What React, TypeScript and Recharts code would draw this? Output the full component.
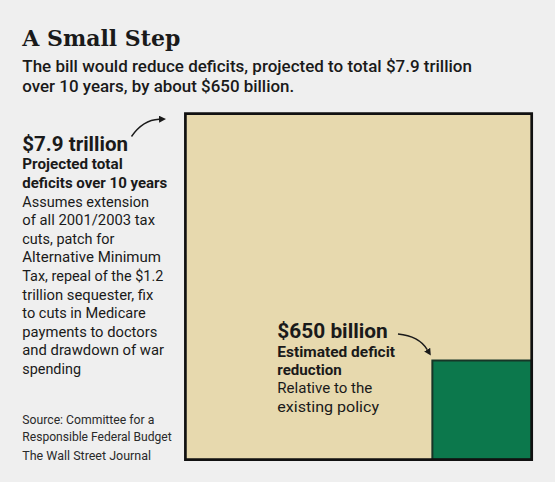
import React from "react";
import { ComposedChart, XAxis, YAxis, ReferenceArea } from "recharts";

// ---- data ----
const squareNames = ["Projected total deficits over 10 years", "Estimated deficit reduction"];
const squareValues = [7900, 650]; // billions of dollars
const squareLabels = ["$7.9 trillion", "$650 billion"];

const titleText = "A Small Step";
const subtitleLines = [
  "The bill would reduce deficits, projected to total $7.9 trillion",
  "over 10 years, by about $650 billion.",
];
const totalNoteBold = ["Projected total", "deficits over 10 years"];
const totalNoteLines = [
  "Assumes extension",
  "of all 2001/2003 tax",
  "cuts, patch for",
  "Alternative Minimum",
  "Tax, repeal of the $1.2",
  "trillion sequester, fix",
  "to cuts in Medicare",
  "payments to doctors",
  "and drawdown of war",
  "spending",
];
const reductionBold = ["Estimated deficit", "reduction"];
const reductionLines = ["Relative to the", "existing policy"];
const sourceLines = ["Source: Committee for a", "Responsible Federal Budget", "The Wall Street Journal"];

// ---- layout (widths of text lines, px) ----
const subtitleWidths = [449.6, 271.9];
const totalBoldWidths = [100.4, 145];
const totalNoteWidths = [126.7, 132.7, 92, 138.7, 141, 131, 123.4, 135, 141.7, 58.7];
const reductionBoldWidths = [117.7, 64.4];
const reductionWidths = [95, 101.7];
const sourceWidths = [132, 149.4, 128.7];

const BG = "#efefef";
const BEIGE = "#e7d9ae";
const GREEN = "#0c784c";
const INK = "#1a1a1a";
const SANS = "Roboto, 'Noto Sans', sans-serif";

const sides = squareValues.map((v) => Math.sqrt(v));
const maxSide = sides[0];
const chartData = squareNames.map((name, i) => ({ name, value: squareValues[i], side: sides[i] }));

const T = (props: any) => (
  <text lengthAdjust="spacingAndGlyphs" fill={INK} fontFamily={SANS} {...props} />
);

export default function App() {
  return (
    <div
      style={{
        position: "absolute",
        left: 0,
        top: 0,
        width: 555,
        height: 482,
        background: BG,
        overflow: "hidden",
      }}
    >
      <div style={{ position: "absolute", left: 0, top: 0 }}>
        <ComposedChart
          width={555}
          height={482}
          data={chartData}
          margin={{ top: 113.7, right: 23.3, bottom: 22.3, left: 185.4 }}
        >
          <XAxis type="number" dataKey="side" domain={[0, maxSide]} hide />
          <YAxis type="number" dataKey="side" domain={[0, maxSide]} hide />
          <ReferenceArea
            x1={0}
            x2={sides[0]}
            y1={0}
            y2={sides[0]}
            fill={BEIGE}
            fillOpacity={1}
            stroke="none"
          />
          <ReferenceArea
            x1={maxSide - sides[1]}
            x2={maxSide}
            y1={0}
            y2={sides[1]}
            fill={GREEN}
            fillOpacity={1}
            stroke="#173627"
            strokeWidth={2}
          />
          <ReferenceArea
            x1={0}
            x2={sides[0]}
            y1={0}
            y2={sides[0]}
            fill="none"
            fillOpacity={0}
            stroke="#111111"
            strokeWidth={2.7}
          />
        </ComposedChart>
      </div>
      <svg
        width={555}
        height={482}
        style={{ position: "absolute", left: 0, top: 0, pointerEvents: "none" }}
      >
        <defs>
          <marker
            id="ah"
            viewBox="0 0 10 10"
            refX="0"
            refY="5"
            markerWidth="7"
            markerHeight="7"
            markerUnits="userSpaceOnUse"
            orient="auto"
          >
            <path d="M0,0 L10,5 L0,10 z" fill={INK} />
          </marker>
        </defs>

        <text
          x={22.3}
          y={46}
          fill={INK}
          fontFamily="'DejaVu Serif', serif"
          fontWeight={700}
          fontSize={23}
          textLength={158}
          lengthAdjust="spacingAndGlyphs"
        >
          {titleText}
        </text>
        {subtitleLines.map((s, i) => (
          <T key={s} x={22.3} y={71.7 + i * 20} fontSize={16.5} fontWeight={500} textLength={subtitleWidths[i]}>
            {s}
          </T>
        ))}

        {/* total block */}
        <T x={22.3} y={151} fontSize={20} fontWeight={700} textLength={105.7}>
          {squareLabels[0]}
        </T>
        {totalNoteBold.map((s, i) => (
          <T key={s} x={22.3} y={169.3 + i * 18.5} fontSize={15.5} fontWeight={700} textLength={totalBoldWidths[i]}>
            {s}
          </T>
        ))}
        {totalNoteLines.map((s, i) => (
          <T key={s} x={22.3} y={206.6 + i * 18.6} fontSize={15.5} fontWeight={400} textLength={totalNoteWidths[i]}>
            {s}
          </T>
        ))}
        {sourceLines.map((s, i) => (
          <T
            key={s}
            x={22.3}
            y={[424.3, 440.7, 460][i]}
            fontSize={12.8}
            fontWeight={400}
            fill="#2a2a2a"
            textLength={sourceWidths[i]}
          >
            {s}
          </T>
        ))}

        {/* reduction block */}
        <T x={277.3} y={338.3} fontSize={20} fontWeight={700} textLength={110.4}>
          {squareLabels[1]}
        </T>
        {reductionBold.map((s, i) => (
          <T key={s} x={277.3} y={356.7 + i * 17.8} fontSize={15.5} fontWeight={700} textLength={reductionBoldWidths[i]}>
            {s}
          </T>
        ))}
        {reductionLines.map((s, i) => (
          <T key={s} x={277.3} y={393.3 + i * 18.4} fontSize={15.5} fontWeight={400} textLength={reductionWidths[i]}>
            {s}
          </T>
        ))}

        {/* arrows */}
        <path d="M131.5,136.5 Q143,120 159,119.3" fill="none" stroke={INK} strokeWidth={1.4} markerEnd="url(#ah)" />
        <path d="M398,334 Q419,336 427.2,349.6" fill="none" stroke={INK} strokeWidth={1.4} markerEnd="url(#ah)" />
      </svg>
    </div>
  );
}
